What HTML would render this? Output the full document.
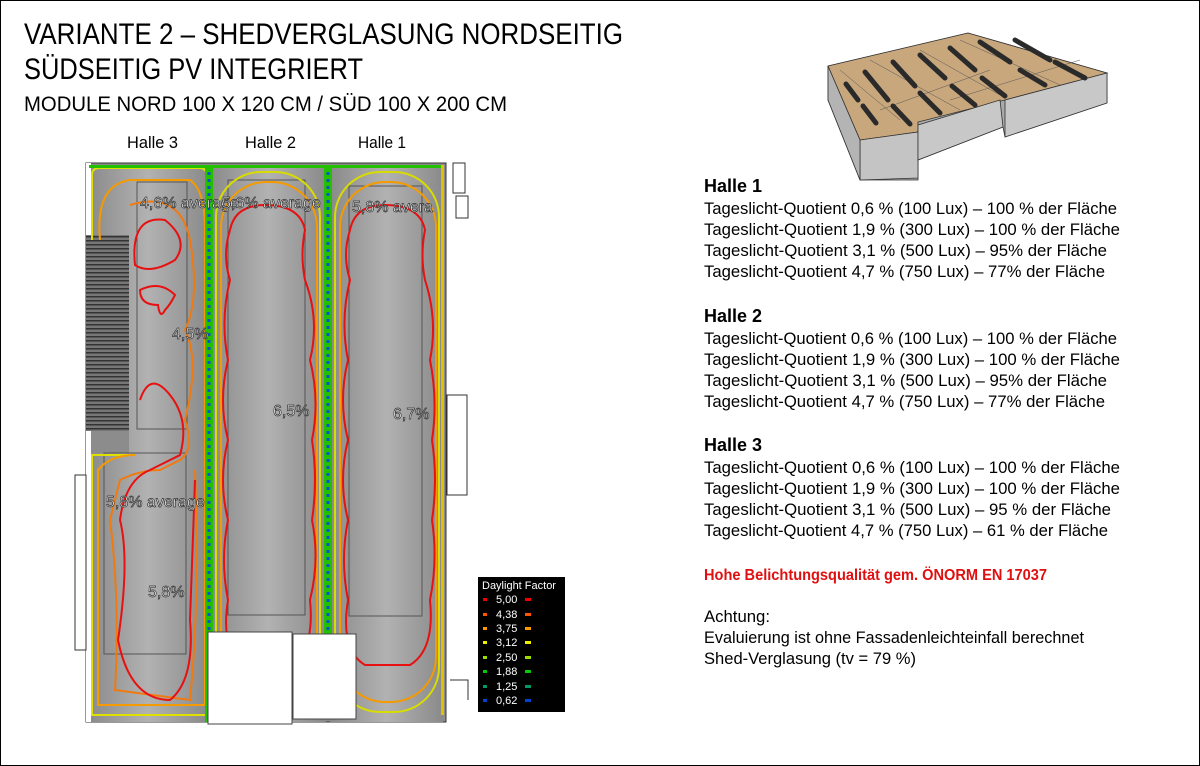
<!DOCTYPE html>
<html><head><meta charset="utf-8"><style>
html,body{margin:0;padding:0;background:#fff}
svg{display:block}
text{font-family:"Liberation Sans Narrow","Liberation Sans",sans-serif}
</style></head><body>
<svg width="1200" height="766" viewBox="0 0 1200 766" xmlns="http://www.w3.org/2000/svg">
<defs>
<linearGradient id="hg" x1="0" x2="1"><stop offset="0" stop-color="#8a8a8a"/><stop offset="0.5" stop-color="#b2b2b2"/><stop offset="1" stop-color="#8a8a8a"/></linearGradient>
<pattern id="hatch" width="4" height="4" patternUnits="userSpaceOnUse"><rect width="4" height="4" fill="#777"/><rect width="4" height="1.5" fill="#333"/></pattern>
</defs>
<rect x="0.5" y="0.5" width="1199" height="765" fill="#fff" stroke="#000"/>

<text x="24" y="44" font-size="30" textLength="599" lengthAdjust="spacingAndGlyphs">VARIANTE 2 – SHEDVERGLASUNG NORDSEITIG</text>
<text x="24" y="79" font-size="30" textLength="339" lengthAdjust="spacingAndGlyphs">SÜDSEITIG PV INTEGRIERT</text>
<text x="24" y="111" font-size="21" textLength="483" lengthAdjust="spacingAndGlyphs">MODULE NORD 100 X 120 CM / SÜD 100 X 200 CM</text>
<text x="127" y="148" font-size="17" textLength="51" lengthAdjust="spacingAndGlyphs">Halle 3</text>
<text x="245" y="148" font-size="17" textLength="51" lengthAdjust="spacingAndGlyphs">Halle 2</text>
<text x="358" y="148" font-size="17" textLength="48" lengthAdjust="spacingAndGlyphs">Halle 1</text>

<rect x="86" y="163" width="360" height="559" fill="#8c8c8c" stroke="#333"/>
<rect x="88" y="165" width="120" height="557" fill="url(#hg)"/>
<rect x="210" y="165" width="116" height="557" fill="url(#hg)"/>
<rect x="330" y="165" width="113" height="557" fill="url(#hg)"/>
<rect x="86" y="163" width="5" height="80" fill="#fff"/>
<rect x="86" y="235" width="43" height="196" fill="url(#hatch)"/>
<rect x="86" y="431" width="43" height="22" fill="#8c8c8c"/>
<rect x="86" y="431" width="5" height="291" fill="#fff"/>
<g fill="none" stroke="#555" stroke-width="1">
<rect x="137" y="182" width="50" height="247"/>
<rect x="104" y="453" width="82" height="201"/>
<rect x="228" y="180" width="77" height="435"/>
<rect x="349" y="186" width="73" height="430"/>
</g>
<g fill="none" stroke-width="2">
<path d="M92 240 L92 175 Q92 168 100 168 L200 168 Q207 168 207 178 L207 715 L92 715 L92 455 L130 455" stroke="#dfe000"/>
<path d="M100 240 Q95 185 130 180 L190 180 Q205 190 205 230 L205 705 L98 705 L98 470 Q110 455 135 455" stroke="#f59a00"/>
<path d="M130 205 Q180 190 190 240 Q200 300 185 330 Q200 360 185 420 Q195 450 180 460 L160 470 Q140 470 120 480 L110 520 Q120 600 115 690 L190 700 Q200 600 195 470" stroke="#f07a10"/>
<path d="M135 265 Q130 215 165 220 Q190 240 175 260 Q150 275 135 265Z" stroke="#e81010"/>
<path d="M140 290 Q160 280 175 295 Q170 305 165 310 Q160 320 158 305 Q140 305 140 290Z" stroke="#e81010"/>
<path d="M140 400 Q150 370 170 395 Q190 420 180 455 L150 470 Q125 480 120 520 Q130 560 118 640 Q130 700 170 700 Q195 680 190 620 L195 480" stroke="#e81010"/>
<rect x="216" y="172" width="104" height="540" rx="45" stroke="#d8dc00"/>
<rect x="221" y="182" width="96" height="520" rx="45" stroke="#f59a00"/>
<path d="M230 230 Q235 205 265 205 Q300 205 305 230 Q300 255 305 280 Q320 320 310 360 Q320 400 312 440 Q318 480 312 520 Q320 560 310 600 Q315 650 290 665 L245 665 Q220 650 228 600 Q220 560 228 520 Q218 480 228 440 Q218 400 228 360 Q220 320 230 280 Q222 255 230 230Z" stroke="#e81010"/>
<rect x="335" y="172" width="104" height="540" rx="45" stroke="#d8dc00"/>
<rect x="340" y="182" width="96" height="520" rx="45" stroke="#f59a00"/>
<path d="M350 230 Q355 205 385 205 Q420 205 425 230 Q420 255 425 280 Q438 320 430 360 Q438 400 432 440 Q438 480 432 520 Q438 560 430 600 Q435 650 410 665 L365 665 Q340 650 348 600 Q340 560 348 520 Q338 480 348 440 Q338 400 348 360 Q340 320 350 280 Q342 255 350 230Z" stroke="#e81010"/>
</g>
<rect x="205" y="165" width="8" height="557" fill="#22c000"/>
<line x1="209" y1="165" x2="209" y2="722" stroke="#1050d0" stroke-width="3" stroke-dasharray="3 4"/>
<rect x="324" y="165" width="8" height="477" fill="#22c000"/>
<line x1="328" y1="165" x2="328" y2="642" stroke="#1050d0" stroke-width="3" stroke-dasharray="3 4"/>
<rect x="89" y="165" width="354" height="3" fill="#22c000"/>
<rect x="441" y="165" width="3" height="550" fill="#e0c000"/>
<rect x="208" y="632" width="84" height="92" fill="#fff" stroke="#444"/>
<rect x="293" y="634" width="63" height="85" fill="#fff" stroke="#444"/>
<g fill="none" stroke="#333" stroke-width="1">
<rect x="453" y="163" width="12" height="30"/><rect x="456" y="196" width="12" height="22"/>
<rect x="447" y="395" width="20" height="100"/><path d="M446 512 L446 722 M450 680 L468 680 L468 700"/>
<rect x="75" y="475" width="11" height="175"/>
</g>
<g fill="#fff" stroke="#333" stroke-width="0.7" font-size="16" font-family="Liberation Sans,sans-serif">
<text x="140" y="208">4,6% average</text><text x="222" y="208">5,6% average</text><text x="352" y="212">5,8% avera</text>
<text x="172" y="339">4,5%</text><text x="273" y="416">6,5%</text><text x="393" y="419">6,7%</text>
<text x="106" y="507">5,8% average</text><text x="148" y="597">5,8%</text>
</g>
<rect x="478" y="577" width="87" height="135" fill="#000"/>
<text x="482" y="589" font-size="11" fill="#fff" font-family="Liberation Sans,sans-serif">Daylight Factor</text>
<g font-size="11" fill="#fff" font-family="Liberation Sans,sans-serif">
<text x="496" y="603">5,00</text><text x="496" y="618">4,38</text><text x="496" y="632">3,75</text><text x="496" y="646">3,12</text><text x="496" y="661">2,50</text><text x="496" y="675">1,88</text><text x="496" y="690">1,25</text><text x="496" y="704">0,62</text>
</g>
<g>
<rect x="483" y="598" width="4" height="3" fill="#e00"/><rect x="525" y="598" width="6" height="3" fill="#e00"/>
<rect x="483" y="613" width="4" height="3" fill="#f50"/><rect x="525" y="613" width="6" height="3" fill="#f50"/>
<rect x="483" y="627" width="4" height="3" fill="#f90"/><rect x="525" y="627" width="6" height="3" fill="#f90"/>
<rect x="483" y="641" width="4" height="3" fill="#ee0"/><rect x="525" y="641" width="6" height="3" fill="#ee0"/>
<rect x="483" y="656" width="4" height="3" fill="#9d0"/><rect x="525" y="656" width="6" height="3" fill="#9d0"/>
<rect x="483" y="670" width="4" height="3" fill="#0c0"/><rect x="525" y="670" width="6" height="3" fill="#0c0"/>
<rect x="483" y="685" width="4" height="3" fill="#096"/><rect x="525" y="685" width="6" height="3" fill="#096"/>
<rect x="483" y="699" width="4" height="3" fill="#04c"/><rect x="525" y="699" width="6" height="3" fill="#04c"/>
</g>

<!-- 3D model -->
<g stroke="#333" stroke-width="0.8">
<polygon points="828,66 968,33 1107,73 1107,103 1005,137 1003,127 918,160 918,180 860,180 828,100" fill="#aaa"/>
<polygon points="828,66 968,33 1107,73 1005,100 918,122 918,132 860,140" fill="#c8a77d"/>
<polygon points="860,140 918,132 918,178 860,180" fill="#c4c4c4"/>
<polygon points="918,125 1000,100 1003,127 918,160" fill="#c8c8c8"/>
<polygon points="1005,100 1107,73 1107,103 1005,137" fill="#c8c8c8"/>
<polygon points="828,66 860,140 860,180 828,100" fill="#b4b4b4"/>
</g>
<g stroke="#555" stroke-width="0.5" fill="none">
<path d="M840 70 L900 120 M870 60 L960 110 M920 50 L1000 95 M960 40 L1060 85 M880 110 L990 70 M950 100 L1080 60"/>
</g>
<g stroke="#2a2a2a" stroke-width="5" stroke-linecap="round">
<line x1="846" y1="84" x2="858" y2="100"/><line x1="863" y1="106" x2="876" y2="123"/>
<line x1="865" y1="72" x2="888" y2="100"/><line x1="893" y1="106" x2="910" y2="124"/>
<line x1="893" y1="62" x2="915" y2="86"/><line x1="920" y1="93" x2="940" y2="113"/>
<line x1="920" y1="55" x2="945" y2="78"/><line x1="952" y1="86" x2="975" y2="105"/>
<line x1="950" y1="48" x2="975" y2="70"/><line x1="982" y1="78" x2="1005" y2="96"/>
<line x1="980" y1="42" x2="1010" y2="62"/><line x1="1020" y1="70" x2="1045" y2="85"/>
<line x1="1015" y1="40" x2="1050" y2="60"/><line x1="1055" y1="62" x2="1085" y2="78"/>
</g>

<g font-size="17" fill="#000">
<text x="704" y="192" font-weight="bold" font-size="18" textLength="58" lengthAdjust="spacingAndGlyphs">Halle 1</text>
<text x="704" y="214" textLength="413" lengthAdjust="spacingAndGlyphs">Tageslicht-Quotient 0,6 % (100 Lux) – 100 % der Fläche</text>
<text x="704" y="235" textLength="416" lengthAdjust="spacingAndGlyphs">Tageslicht-Quotient 1,9 % (300 Lux) –  100 % der Fläche</text>
<text x="704" y="256" textLength="403" lengthAdjust="spacingAndGlyphs">Tageslicht-Quotient 3,1 % (500 Lux) –  95% der Fläche</text>
<text x="704" y="277" textLength="401" lengthAdjust="spacingAndGlyphs">Tageslicht-Quotient 4,7 % (750 Lux) –  77% der Fläche</text>
<text x="704" y="322" font-weight="bold" font-size="18" textLength="58" lengthAdjust="spacingAndGlyphs">Halle 2</text>
<text x="704" y="344" textLength="413" lengthAdjust="spacingAndGlyphs">Tageslicht-Quotient 0,6 % (100 Lux) – 100 % der Fläche</text>
<text x="704" y="365" textLength="416" lengthAdjust="spacingAndGlyphs">Tageslicht-Quotient 1,9 % (300 Lux) –  100 % der Fläche</text>
<text x="704" y="386" textLength="403" lengthAdjust="spacingAndGlyphs">Tageslicht-Quotient 3,1 % (500 Lux) –  95% der Fläche</text>
<text x="704" y="407" textLength="401" lengthAdjust="spacingAndGlyphs">Tageslicht-Quotient 4,7 % (750 Lux) –  77% der Fläche</text>
<text x="704" y="451" font-weight="bold" font-size="18" textLength="58" lengthAdjust="spacingAndGlyphs">Halle 3</text>
<text x="704" y="473" textLength="416" lengthAdjust="spacingAndGlyphs">Tageslicht-Quotient 0,6 % (100 Lux) –  100 % der Fläche</text>
<text x="704" y="494" textLength="416" lengthAdjust="spacingAndGlyphs">Tageslicht-Quotient 1,9 % (300 Lux) –  100 % der Fläche</text>
<text x="704" y="515" textLength="407" lengthAdjust="spacingAndGlyphs">Tageslicht-Quotient 3,1 % (500 Lux) –  95 % der Fläche</text>
<text x="704" y="536" textLength="404" lengthAdjust="spacingAndGlyphs">Tageslicht-Quotient 4,7 % (750 Lux) –  61 % der Fläche</text>
<text x="704" y="580" font-weight="bold" font-size="16" fill="#e01010" textLength="343" lengthAdjust="spacingAndGlyphs">Hohe Belichtungsqualität gem. ÖNORM EN 17037</text>
<text x="704" y="622" textLength="66" lengthAdjust="spacingAndGlyphs">Achtung:</text>
<text x="704" y="643" textLength="380" lengthAdjust="spacingAndGlyphs">Evaluierung ist ohne Fassadenleichteinfall berechnet</text>
<text x="704" y="664" textLength="212" lengthAdjust="spacingAndGlyphs">Shed-Verglasung (tv = 79 %)</text>
</g>
</svg>
</body></html>
